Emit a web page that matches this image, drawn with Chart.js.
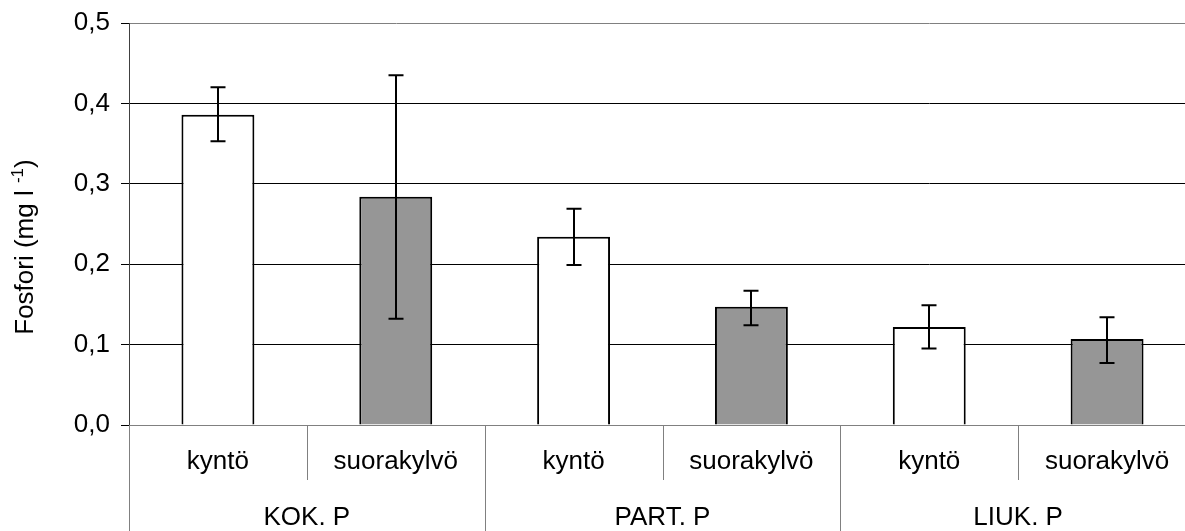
<html>
    <head>
        <title>Fosfori</title>
        <meta charset="utf-8" />
        <script src="https://cdn.jsdelivr.net/npm/chart.js"></script>
        <style>
            body { margin: 0; background: #fff; overflow: hidden; }
            .graph-area { width: 1196px; height: 531px; }
        </style>
    </head>

    <body>
        <div class="graph-area">
            <canvas id="chart" width="1196" height="531"></canvas>
        </div>

        <script>
        // chart values
        var treatments = ['kyntö', 'suorakylvö', 'kyntö', 'suorakylvö', 'kyntö', 'suorakylvö'];
        var groups = ['KOK. P', 'PART. P', 'LIUK. P'];
        var means = [0.386, 0.284, 0.234, 0.147, 0.122, 0.107];
        var errHigh = [0.420, 0.435, 0.269, 0.167, 0.149, 0.134];
        var errLow = [0.353, 0.132, 0.199, 0.124, 0.095, 0.077];
        var yTicks = [0, 0.1, 0.2, 0.3, 0.4, 0.5];

        var FONT = '"Liberation Sans", Arial, sans-serif';
        var barColors = treatments.map(function (t) { return t === 'kyntö' ? '#ffffff' : '#969696'; });

        // error bars + two level category axis + y title
        var extras = {
            id: 'extras',
            afterDatasetsDraw: function (chart) {
                var ctx = chart.ctx;
                var x = chart.scales.x, y = chart.scales.y;
                ctx.save();
                ctx.strokeStyle = '#000';
                ctx.lineWidth = 2;
                for (var i = 0; i < means.length; i++) {
                    var px = Math.round(x.getPixelForValue(i));
                    var top = y.getPixelForValue(errHigh[i]);
                    var bot = y.getPixelForValue(errLow[i]);
                    ctx.beginPath();
                    ctx.moveTo(px, top); ctx.lineTo(px, bot);
                    ctx.moveTo(px - 7.5, top); ctx.lineTo(px + 7.5, top);
                    ctx.moveTo(px - 7.5, bot); ctx.lineTo(px + 7.5, bot);
                    ctx.stroke();
                }
                ctx.restore();
            },
            afterDraw: function (chart) {
                var ctx = chart.ctx;
                var x = chart.scales.x;
                var area = chart.chartArea;
                var step = x.getPixelForValue(1) - x.getPixelForValue(0);
                ctx.save();
                // separators
                ctx.strokeStyle = '#808080';
                ctx.lineWidth = 1;
                for (var i = 0; i <= treatments.length; i++) {
                    var sx = Math.round(x.getPixelForValue(i) - step / 2) + 0.5;
                    var endY = (i % 2 === 0) ? chart.height : area.bottom + 55;
                    ctx.beginPath();
                    ctx.moveTo(sx, area.bottom);
                    ctx.lineTo(sx, endY);
                    ctx.stroke();
                }
                // labels
                ctx.fillStyle = '#000';
                ctx.font = '26px ' + FONT;
                ctx.textAlign = 'center';
                ctx.textBaseline = 'alphabetic';
                treatments.forEach(function (t, i) {
                    ctx.fillText(t, x.getPixelForValue(i), area.bottom + 44);
                });
                groups.forEach(function (g, i) {
                    var cx = (x.getPixelForValue(2 * i) + x.getPixelForValue(2 * i + 1)) / 2;
                    ctx.fillText(g, cx, area.bottom + 100);
                });
                // y title with superscript
                ctx.translate(33, 247);
                ctx.rotate(-Math.PI / 2);
                ctx.textAlign = 'left';
                var main = 'Fosfori (mg l ';
                var sup = '-1';
                var close = ')';
                ctx.font = '26px ' + FONT;
                var w1 = ctx.measureText(main).width;
                var w3 = ctx.measureText(close).width;
                ctx.font = '17px ' + FONT;
                var w2 = ctx.measureText(sup).width;
                var start = -(w1 + w2 + w3) / 2;
                ctx.font = '26px ' + FONT;
                ctx.fillText(main, start, 0);
                ctx.font = '17px ' + FONT;
                ctx.fillText(sup, start + w1, -10);
                ctx.font = '26px ' + FONT;
                ctx.fillText(close, start + w1 + w2, 0);
                ctx.restore();
            }
        };

        var chartData = {
            labels: treatments,
            datasets: [
                {
                    data: means,
                    backgroundColor: barColors,
                    borderColor: '#000',
                    borderWidth: 2,
                    categoryPercentage: 1,
                    barPercentage: 0.41
                }
            ]
        };

        var chartOptions = {
            responsive: false,
            animation: false,
            devicePixelRatio: 1,
            layout: { padding: { top: 23, left: 0, right: 0, bottom: 0 } },
            plugins: {
                legend: { display: false },
                tooltip: { enabled: false }
            },
            scales: {
                x: {
                    ticks: { display: false },
                    grid: { display: false },
                    border: { display: true, color: '#808080', width: 1 },
                    afterFit: function (scale) {
                        scale.height = 106;
                        scale.paddingLeft = 0;
                        scale.paddingRight = 0;
                    }
                },
                y: {
                    min: 0,
                    max: 0.5,
                    afterBuildTicks: function (scale) {
                        scale.ticks = yTicks.map(function (v) { return { value: v }; });
                    },
                    ticks: {
                        color: '#000',
                        padding: 11,
                        font: { family: FONT, size: 26 },
                        callback: function (v) { return Number(v).toFixed(1).replace('.', ','); }
                    },
                    grid: {
                        color: function (c) {
                            var v = c.tick ? c.tick.value : 0;
                            return (v === 0 || v === 0.5) ? '#808080' : '#000';
                        },
                        tickColor: '#000',
                        tickLength: 8,
                        lineWidth: 1
                    },
                    border: { display: true, color: '#404040', width: 1 },
                    afterFit: function (scale) {
                        scale.width = 129;
                        scale.paddingTop = 0;
                        scale.paddingBottom = 0;
                    }
                }
            }
        };

        new Chart(document.getElementById('chart'), {
            type: 'bar',
            data: chartData,
            options: chartOptions,
            plugins: [extras]
        });
        </script>
    </body>
</html>
